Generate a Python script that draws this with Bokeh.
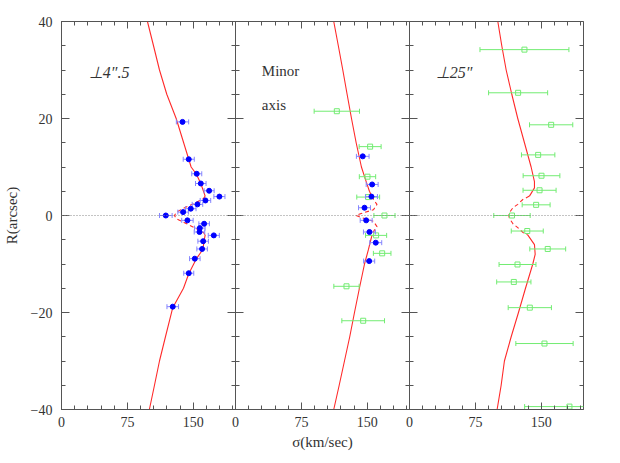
import numpy as np
from bokeh.plotting import figure
from bokeh.models import Range1d, LinearAxis, FixedTicker, Span
from bokeh.core.properties import value
from bokeh.embed import file_html
from bokeh.resources import INLINE

# ---------------- data ----------------
XMAX = 198  # sigma range of each panel (km/s)

# panel 1 (perp 4.5")  blue points
s1 = [137.7, 144.8, 153.9, 158.5, 168.0, 179.7, 163.8, 154.7, 147.1, 138.4, 118.7,
      143.3, 162.3, 157.4, 157.0, 173.3, 161.2, 160.0, 151.7, 144.8, 126.6]
r1 = [19.3, 11.6, 8.6, 6.6, 5.1, 3.9, 3.1, 2.3, 1.4, 0.7, 0.0,
      -1.0, -1.7, -2.6, -3.4, -4.1, -5.3, -6.9, -8.9, -11.9, -18.8]
e1 = [7.0, 6.3, 5.7, 6.0, 5.7, 6.3, 6.0, 6.0, 6.0, 6.0, 7.2,
      6.5, 6.0, 6.0, 6.0, 6.3, 6.0, 6.0, 6.0, 5.7, 6.6]

# panel 2 (minor axis) blue points
s2b = [144.8, 155.5, 154.7, 146.8, 148.7, 152.4, 159.6, 152.1]
r2b = [12.2, 6.4, 3.9, 1.6, -1.0, -3.4, -5.6, -9.4]
e2b = [7.2, 6.8, 6.8, 6.8, 6.8, 6.8, 6.8, 6.3]
# panel 2 green squares
s2g = [115.3, 153.2, 150.2, 151.0, 169.5, 160.0, 166.9, 126.3, 145.3]
r2g = [21.5, 14.2, 8.0, 3.8, 0.0, -4.1, -7.8, -14.6, -21.7]
e2g = [25.8, 12.5, 9.3, 13.0, 12.0, 12.0, 10.0, 14.4, 24.3]

# panel 3 (perp 25") green squares
s3 = [130.8, 123.6, 161.2, 146.4, 150.2, 148.0, 144.1, 116.6, 134.0, 157.3,
      122.9, 118.7, 136.9, 153.6, 182.0]
r3 = [34.2, 25.3, 18.7, 12.5, 8.2, 5.2, 2.2, 0.0, -3.2, -6.9,
      -10.1, -13.7, -19.0, -26.4, -39.4]
e3 = [50.6, 33.6, 24.6, 19.0, 20.9, 18.8, 15.9, 20.7, 18.2, 20.4,
      21.0, 19.5, 24.6, 32.6, 51.0]

# model curves
m1_r = [40, 35, 30, 25, 20, 15, 10, 8.6, 6.6, 4, 3.5, 2.5, 1.5, 0.7, 0, -0.7, -1.5,
        -2.5, -3.5, -4, -5, -7, -9, -12, -15, -19, -25, -30, -35, -40]
m1_s = [97.8, 104.7, 111.5, 119.8, 130.5, 139.0, 147.5, 153.2, 158.5, 163.5, 161.5,
        151.3, 138.8, 131.0, 128.5, 131.0, 140.0, 151.3, 161.5, 163.5, 162.5, 160.8,
        153.2, 144.8, 138.8, 126.6, 118.3, 111.5, 105.8, 100.0]

m2_r = [40, 35, 30, 25, 20, 15, 10, 7, 5, 4, 3, 2.3, 1.2, 0.4, 0, -0.4, -1.2, -2.3,
        -3, -4, -5, -7, -10, -15, -20, -25, -30, -35, -40]
m2_s = [111.8, 117.0, 122.1, 127.0, 132.0, 137.3, 143.3, 148.7, 152.4, 155.0, 158.0,
        161.0, 157.0, 143.0, 137.0, 143.0, 157.0, 161.0, 158.0, 155.5, 154.0, 151.3,
        146.8, 141.0, 135.4, 130.0, 124.0, 118.0, 111.8]

m3_r = [40, 35, 30, 25, 20, 15, 10, 7, 5.7, 4, 3.3, 2.3, 1.6, 0.6, 0, -0.6, -1.7,
        -2.5, -3.6, -4, -6, -8, -10, -15, -20, -25, -30, -35, -40]
m3_s = [100.5, 105.0, 110.0, 116.4, 123.2, 130.8, 138.4, 142.2, 142.2, 136.5, 129.0,
        123.2, 117.7, 113.8, 113.0, 113.8, 117.7, 123.2, 129.7, 134.5, 142.2, 143.0,
        140.3, 132.0, 124.0, 115.7, 108.0, 104.3, 99.7]

CORE = 4.0  # |R| below which the model is drawn dashed

y_major = [-40, -20, 0, 20, 40]
y_minor = list(range(-40, 41, 5))
x_major = [0, 75, 150]
x_minor = list(range(0, XMAX + 1, 15))

# ---------------- styles ----------------
RED = "#ff2a2a"
BLUE = "#0000ff"
LBLUE = "#8585ff"
GREEN = "#72ec72"
AX = "#555555"
SERIF = "Liberation Serif"

p = figure(frame_width=522, frame_height=388,
           x_range=Range1d(0, 3 * XMAX), y_range=Range1d(-40, 40),
           x_axis_type=None, y_axis_type=None,
           output_backend="svg", toolbar_location=None,
           min_border_left=54, min_border_right=20, min_border_top=21,
           min_border_bottom=45)
p.outline_line_color = AX
p.outline_line_width = 1
p.background_fill_color = "white"
p.border_fill_color = "white"

p.extra_x_ranges = {
    "p1": Range1d(0, 3 * XMAX),
    "p2": Range1d(-XMAX, 2 * XMAX),
    "p3": Range1d(-2 * XMAX, XMAX),
}


def style_axis(ax, maj_in=8, min_in=4):
    ax.axis_line_color = AX
    ax.major_tick_line_color = AX
    ax.minor_tick_line_color = AX
    ax.major_tick_in = maj_in
    ax.major_tick_out = 0
    ax.minor_tick_in = min_in
    ax.minor_tick_out = 0
    ax.major_label_text_font = SERIF
    ax.major_label_text_font_size = "14px"
    ax.major_label_text_color = "#333333"
    ax.axis_label_text_font = SERIF
    ax.axis_label_text_font_size = "15px"
    ax.axis_label_text_font_style = "normal"
    ax.axis_label_text_color = "#333333"


# primary left axis
yl = LinearAxis(ticker=FixedTicker(ticks=y_major, minor_ticks=y_minor),
                axis_label="R(arcsec)",
                major_label_overrides={-40: "\u221240", -20: "\u221220", 0: "0",
                                       20: "20", 40: "40"})
style_axis(yl)
yl.major_label_standoff = 9
yl.axis_label_standoff = 8
p.add_layout(yl, "left")

# mirrored / divider y axes
for loc, side in [(XMAX, "right"), (XMAX, "left"), (2 * XMAX, "right"),
                  (2 * XMAX, "left"), (3 * XMAX, "right")]:
    ax = LinearAxis(fixed_location=loc,
                    ticker=FixedTicker(ticks=y_major, minor_ticks=y_minor),
                    major_label_overrides={t: "" for t in y_major})
    style_axis(ax)
    p.add_layout(ax, side)

# bottom axis: the three panels share one frame, each panel repeats 0..XMAX
b_major = [k * XMAX + t for k in range(3) for t in x_major]
b_minor = [k * XMAX + t for k in range(3) for t in x_minor]
b_labels = {k * XMAX + t: str(t) for k in range(3) for t in x_major}
bx = LinearAxis(ticker=FixedTicker(ticks=b_major, minor_ticks=b_minor),
                major_label_overrides=b_labels, axis_label="\u03c3(km/sec)")
style_axis(bx, maj_in=7, min_in=4)
bx.major_label_standoff = 7
bx.axis_label_standoff = 4
p.add_layout(bx, "below")

# top ticks for each panel
for name in ["p1", "p2", "p3"]:
    tx = LinearAxis(x_range_name=name, fixed_location=40, bounds=(0, XMAX),
                    ticker=FixedTicker(ticks=x_major, minor_ticks=x_minor),
                    major_label_overrides={t: "" for t in x_major})
    style_axis(tx, maj_in=7, min_in=4)
    p.add_layout(tx, "above")

# zero line
p.add_layout(Span(location=0, dimension="width", line_color="#888888",
                  line_dash="1 2", line_width=1))


def model(name, rr, ss):
    rr = np.asarray(rr, float)
    ss = np.asarray(ss, float)
    up = rr >= CORE
    lo = rr <= -CORE
    core = np.abs(rr) <= CORE
    p.line(ss[up], rr[up], x_range_name=name, line_color=RED, line_width=1.1)
    p.line(ss[lo], rr[lo], x_range_name=name, line_color=RED, line_width=1.1)
    p.line(ss[core], rr[core], x_range_name=name, line_color=RED, line_width=1.1,
           line_dash="4 3")


def errbars(name, ss, rr, ee, color):
    ss = np.asarray(ss, float)
    rr = np.asarray(rr, float)
    ee = np.asarray(ee, float)
    p.segment(ss - ee, rr, ss + ee, rr, x_range_name=name, line_color=color, line_width=1)
    p.scatter(np.concatenate([ss - ee, ss + ee]), np.concatenate([rr, rr]),
              x_range_name=name, marker="dash", angle=np.pi / 2, size=5,
              line_color=color, line_width=1)


model("p1", m1_r, m1_s)
model("p2", m2_r, m2_s)
model("p3", m3_r, m3_s)

errbars("p1", s1, r1, e1, LBLUE)
p.scatter(s1, r1, x_range_name="p1", marker="circle", size=5,
          fill_color=BLUE, line_color=BLUE)

errbars("p2", s2g, r2g, e2g, GREEN)
p.scatter(s2g, r2g, x_range_name="p2", marker="square", size=5,
          fill_color=None, line_color=GREEN, line_width=1)
errbars("p2", s2b, r2b, e2b, LBLUE)
p.scatter(s2b, r2b, x_range_name="p2", marker="circle", size=5,
          fill_color=BLUE, line_color=BLUE)

errbars("p3", s3, r3, e3, GREEN)
p.scatter(s3, r3, x_range_name="p3", marker="square", size=5,
          fill_color=None, line_color=GREEN, line_width=1)

# panel labels
p.text([31], [29.5], text=["\u22a54\u2033.5"], x_range_name="p1",
       text_font=value(SERIF), text_font_style="italic", text_font_size="16px",
       text_baseline="middle", text_align="left", text_color="#333333")
p.text([30], [29.8], text=["Minor"], x_range_name="p2",
       text_font=value(SERIF), text_font_size="15px",
       text_baseline="middle", text_align="left", text_color="#333333")
p.text([30], [22.8], text=["axis"], x_range_name="p2",
       text_font=value(SERIF), text_font_size="15px",
       text_baseline="middle", text_align="left", text_color="#333333")
p.text([30], [29.5], text=["\u22a525\u2033"], x_range_name="p3",
       text_font=value(SERIF), text_font_style="italic", text_font_size="16px",
       text_baseline="middle", text_align="left", text_color="#333333")

open("out.html", "w").write(file_html(p, INLINE))
